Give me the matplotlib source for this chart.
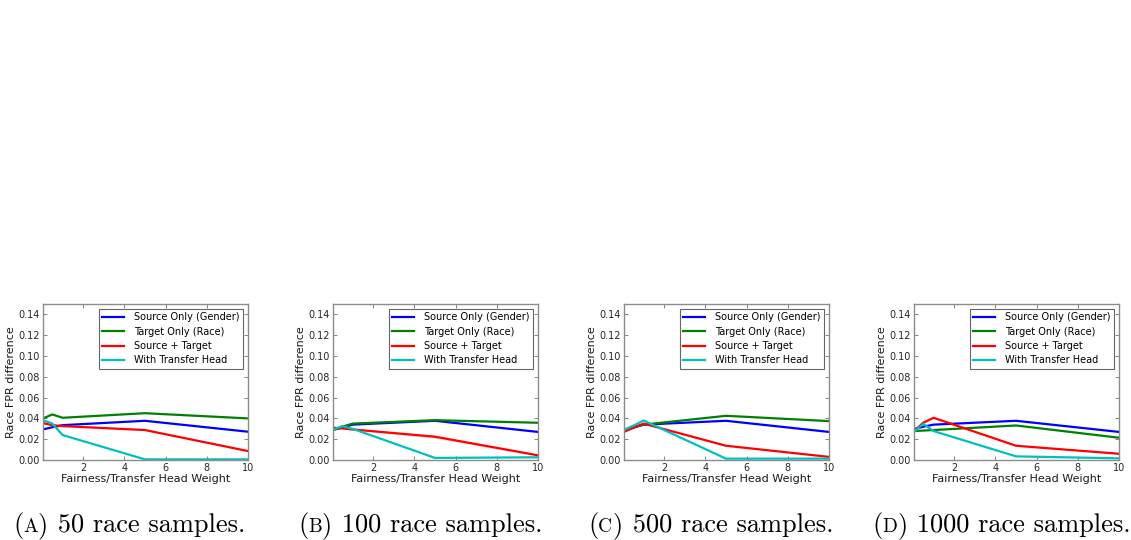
import matplotlib
matplotlib.use("Agg")
import matplotlib.pyplot as plt

# fairness / transfer head weight
weights = [0.05, 0.5, 1, 5, 10]

series_names = ["Source Only (Gender)", "Target Only (Race)", "Source + Target", "With Transfer Head"]
series_colors = ["b", "g", "r", "c"]

# one list of curves per panel, in the order of series_names
panel_a = [
    [0.0294, 0.0315, 0.0335, 0.0377, 0.0272],
    [0.0400, 0.0438, 0.0406, 0.0450, 0.0400],
    [0.0355, 0.0335, 0.0326, 0.0288, 0.0086],
    [0.0383, 0.0350, 0.0240, 0.0006, 0.0006],
]
panel_b = [
    [0.0290, 0.0310, 0.0340, 0.0377, 0.0270],
    [0.0290, 0.0320, 0.0350, 0.0383, 0.0358],
    [0.0310, 0.0304, 0.0294, 0.0224, 0.0045],
    [0.0290, 0.0326, 0.0300, 0.0020, 0.0026],
]
panel_c = [
    [0.0278, 0.0310, 0.0340, 0.0377, 0.0270],
    [0.0290, 0.0315, 0.0340, 0.0425, 0.0374],
    [0.0270, 0.0310, 0.0350, 0.0137, 0.0030],
    [0.0290, 0.0330, 0.0380, 0.0013, 0.0013],
]
panel_d = [
    [0.0297, 0.0320, 0.0340, 0.0377, 0.0270],
    [0.0278, 0.0283, 0.0288, 0.0332, 0.0214],
    [0.0278, 0.0358, 0.0406, 0.0137, 0.0060],
    [0.0270, 0.0348, 0.0278, 0.0035, 0.0016],
]
# spread shown around the Source + Target curve in panel B
panel_b_red_std = [0.0005, 0.0005, 0.0008, 0.0015, 0.0008]

panels = [panel_a, panel_b, panel_c, panel_d]
caption_letters = ["A", "B", "C", "D"]
caption_texts = ["50 race samples.", "100 race samples.", "500 race samples.", "1000 race samples."]

fig = plt.figure(figsize=(11.31, 5.4), dpi=100)

lefts = [43, 333, 624, 914]
caption_x = [13, 298, 588, 872]

for i, data in enumerate(panels):
    ax = fig.add_axes([lefts[i] / 1131, 1 - 460 / 540, 205 / 1131, 156 / 540])
    for name, col, vals in zip(series_names, series_colors, data):
        ax.plot(weights, vals, color=col, lw=1.6, label=name)
    if i == 1:
        lo = [v - s for v, s in zip(data[2], panel_b_red_std)]
        hi = [v + s for v, s in zip(data[2], panel_b_red_std)]
        ax.fill_between(weights, lo, hi, color="r", alpha=0.15, lw=0)

    ax.set_xlim(weights[0], weights[-1])
    ax.set_ylim(0, 0.15)
    ax.set_xticks([2, 4, 6, 8, 10])
    ax.set_yticks([0.0, 0.02, 0.04, 0.06, 0.08, 0.10, 0.12, 0.14])
    ax.set_yticklabels(["%.2f" % t for t in ax.get_yticks()])
    ax.tick_params(direction="in", top=True, right=True, labelsize=7,
                   length=3, width=0.6, color="0.45", pad=2, labelcolor="0.15")
    for sp in ax.spines.values():
        sp.set_color("0.55")
        sp.set_linewidth(1.0)
    ax.set_xlabel("Fairness/Transfer Head Weight", fontsize=8, labelpad=1, color="0.1")
    ax.set_ylabel("Race FPR difference", fontsize=8, labelpad=2, color="0.1")
    leg = ax.legend(loc="upper right", fontsize=7, fancybox=False, framealpha=1,
                    borderpad=0.35, labelspacing=0.45, handlelength=2.2, handletextpad=1.1)
    leg.get_frame().set_edgecolor("0.4")
    leg.get_frame().set_linewidth(0.8)

# captions, letter in small caps: place pieces one after another on a shared baseline
renderer = fig.canvas.get_renderer()
base_y = 1 - 532 / 540
for i in range(len(panels)):
    x_px = caption_x[i]
    pieces = [("(", 19), (caption_letters[i], 14), (")", 19), (" " + caption_texts[i], 19)]
    for s, size in pieces:
        t = fig.text(x_px / 1131, base_y, s, fontsize=size, family="cmr10",
                     va="baseline", ha="left")
        x_px = t.get_window_extent(renderer).x1 + (1 if s == ")" else 0)

fig.savefig("out.png", dpi=100)
